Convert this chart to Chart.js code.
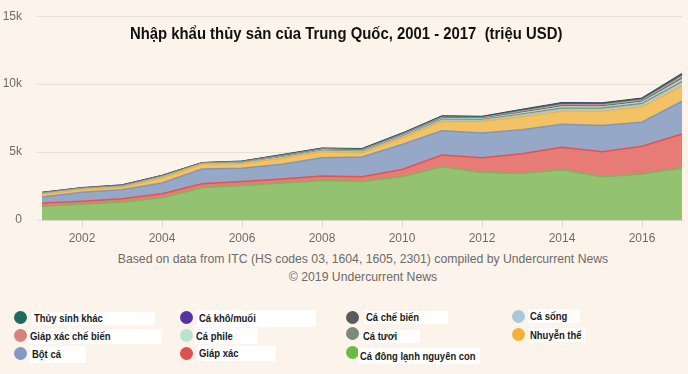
<!DOCTYPE html>
<html>
<head>
<meta charset="utf-8">
<script src="https://cdn.jsdelivr.net/npm/chart.js@4.4.1/dist/chart.umd.min.js"></script>
<style>
  body {
    margin: 0;
    width: 688px;
    height: 374px;
    overflow: hidden;
    position: relative;
    background: #fcf3ea;
    font-family: "Liberation Sans", Arial, sans-serif;
  }
  #wrap { position: absolute; left: 0; top: -6px; width: 688px; height: 256px; }
  .title {
    position: absolute; left: 2px; top: 24px; width: 688px;
    text-align: center; font-weight: bold; font-size: 16px; line-height: 20px; color: #111;
    transform: scaleX(0.93); transform-origin: 346px 0;
  }
  .foot {
    position: absolute; left: 0; width: 726px; text-align: center;
    font-size: 13px; line-height: 18px; color: #6b6b6b;
    transform: scaleX(0.94); transform-origin: 363px 0;
  }
  .dot { position: absolute; width: 13px; height: 13px; border-radius: 50%; }
  .lab {
    position: absolute; background: #fff; font-weight: bold; font-size: 11px;
    color: #1a1a1a; padding-left: 2px; box-sizing: border-box; white-space: nowrap; overflow: hidden;
  }
  .lab span { display: inline-block; transform: scaleX(0.86); transform-origin: 0 0; }
</style>
</head>
<body>
<div id="wrap"><canvas id="chart"></canvas></div>
<div class="title">Nhập khẩu thủy sản của Trung Quốc, 2001 - 2017&nbsp; (triệu USD)</div>
<div class="foot" style="top:250px">Based on data from ITC (HS codes 03, 1604, 1605, 2301) compiled by Undercurrent News</div>
<div class="foot" style="top:268px">© 2019 Undercurrent News</div>
<div id="legend"></div>

<script>
// years on the x axis
const years = ['2001', '2002', '2003', '2004', '2005', '2006', '2007', '2008', '2009',
  '2010', '2011', '2012', '2013', '2014', '2015', '2016', '2017'];

// million USD, stacked from the bottom up
const frozenWhole = [1010, 1160, 1330, 1640, 2370, 2540, 2730, 2900, 2830, 3190, 3910, 3500, 3430, 3700, 3190, 3380, 3820];
const crustaceans = [240, 220, 240, 290, 290, 290, 290, 340, 360, 530, 870, 1090, 1450, 1660, 1830, 2050, 2510];
const fishMeal = [440, 670, 650, 800, 1090, 980, 1080, 1350, 1450, 1840, 1790, 1810, 1760, 1690, 1940, 1770, 2410];
const molluscs = [190, 200, 190, 360, 350, 340, 440, 430, 310, 480, 680, 850, 960, 950, 1040, 1130, 1120];
const liveFish = [40, 30, 40, 50, 30, 45, 65, 70, 75, 85, 100, 90, 130, 150, 150, 160, 220];
const freshFish = [25, 20, 25, 30, 20, 30, 40, 40, 45, 55, 65, 60, 80, 100, 95, 100, 140];
const fillets = [20, 15, 20, 25, 15, 25, 35, 35, 40, 50, 60, 55, 80, 95, 90, 95, 140];
const processedFish = [20, 15, 20, 25, 15, 20, 30, 30, 30, 35, 40, 35, 50, 60, 60, 60, 90];
const processedCrust = [20, 20, 25, 30, 20, 30, 40, 40, 45, 50, 60, 55, 80, 95, 90, 95, 140];
const otherAquatic = [25, 20, 30, 30, 20, 30, 45, 50, 50, 60, 75, 65, 95, 110, 105, 110, 150];
const driedSalted = [10, 10, 10, 10, 10, 10, 15, 15, 15, 15, 20, 20, 25, 30, 30, 30, 40];

const yTicks = [0, 5000, 10000, 15000];

const FONT = '"Liberation Sans", Arial, sans-serif';

function layer(label, data, fill, line, width) {
  return {
    label: label,
    data: data,
    backgroundColor: fill,
    borderColor: line,
    borderWidth: width,
    fill: '-1',
    pointRadius: 0,
    tension: 0
  };
}

const sets = [
  layer('Cá đông lạnh nguyên con', frozenWhole, '#93c371', '#7fb45a', 1.5),
  layer('Giáp xác', crustaceans, '#e77c76', '#df5452', 1.5),
  layer('Bột cá', fishMeal, '#95a8c8', '#8296bb', 1.5),
  layer('Nhuyễn thể', molluscs, '#f3c265', '#edb346', 1.5),
  layer('Cá sống', liveFish, '#b4d0e0', '#a2c2d6', 1),
  layer('Cá tươi', freshFish, '#8e9c8c', '#7c8b7b', 1),
  layer('Cá phile', fillets, '#c2e4d2', '#a9d6bf', 1),
  layer('Cá chế biến', processedFish, '#777777', '#5b5b5b', 1),
  layer('Giáp xác chế biến', processedCrust, '#dba09c', '#cf8884', 1),
  layer('Thủy sinh khác', otherAquatic, '#3d7f72', '#1d6b5f', 1),
  layer('Cá khô/muối', driedSalted, '#6e5cae', '#3f3a86', 1.2)
];
sets[0].fill = 'origin';

new Chart(document.getElementById('chart'), {
  type: 'line',
  data: { labels: years, datasets: sets },
  options: {
    responsive: true,
    maintainAspectRatio: false,
    animation: false,
    layout: { padding: { top: 8, right: 6, left: 0, bottom: 0 } },
    plugins: { legend: { display: false }, tooltip: { enabled: false } },
    scales: {
      x: {
        type: 'category',
        offset: false,
        grid: { drawOnChartArea: false, drawTicks: true, tickLength: 7, tickColor: '#d9d6d2' },
        border: { color: '#d9d6d2' },
        ticks: {
          autoSkip: false,
          maxRotation: 0,
          padding: 4,
          color: '#6b6b6b',
          font: { family: FONT, size: 12 },
          callback: function (val) {
            const l = this.getLabelForValue(val);
            return (+l % 2 === 0) ? l : null;
          }
        },
        afterFit: function (s) { s.height = 30; }
      },
      y: {
        stacked: true,
        min: 0,
        max: 15000,
        afterBuildTicks: function (s) { s.ticks = yTicks.map(v => ({ value: v })); },
        grid: { color: '#e6e0d9', tickLength: 5, tickColor: '#e6e0d9' },
        border: { display: false },
        ticks: {
          padding: 15,
          color: '#6b6b6b',
          font: { family: FONT, size: 12 },
          callback: v => v === 0 ? '0' : (v / 1000) + 'k'
        },
        afterFit: function (s) { s.width = 42; }
      }
    }
  }
});

// hand-placed legend, like the pasted boxes in the source image
const legendItems = [
  ['Thủy sinh khác', '#1d6b5f', 14, 311, 32, 312, 123, 13],
  ['Giáp xác chế biến', '#d4837f', 14, 329, 28, 329, 134, 15],
  ['Bột cá', '#8199c4', 14, 347, 30, 346, 56, 17],
  ['Cá khô/muối', '#5530a6', 180, 311, 197, 310, 119, 17],
  ['Cá phile', '#b9e2cf', 180, 329, 194, 328, 64, 16],
  ['Giáp xác', '#e0504f', 180, 347, 197, 346, 79, 15],
  ['Cá chế biến', '#5b5b5b', 346, 311, 364, 311, 84, 13],
  ['Cá tươi', '#7b8b7b', 346, 327, 361, 330, 59, 13],
  ['Cá đông lạnh nguyên con', '#6fb944', 346, 346, 358, 348, 122, 16],
  ['Cá sống', '#a9c8dc', 512, 310, 528, 309, 52, 14],
  ['Nhuyễn thể', '#f0b23f', 512, 328, 528, 328, 57, 14]
];
const lg = document.getElementById('legend');
legendItems.forEach(function (it) {
  const d = document.createElement('div');
  d.className = 'dot';
  d.style.left = it[2] + 'px';
  d.style.top = it[3] + 'px';
  d.style.background = it[1];
  lg.appendChild(d);
  const t = document.createElement('div');
  t.className = 'lab';
  t.style.left = it[4] + 'px';
  t.style.top = it[5] + 'px';
  t.style.width = it[6] + 'px';
  t.style.height = it[7] + 'px';
  t.style.lineHeight = it[7] + 'px';
  const s = document.createElement('span');
  s.textContent = it[0];
  t.appendChild(s);
  lg.appendChild(t);
});
</script>
</body>
</html>
